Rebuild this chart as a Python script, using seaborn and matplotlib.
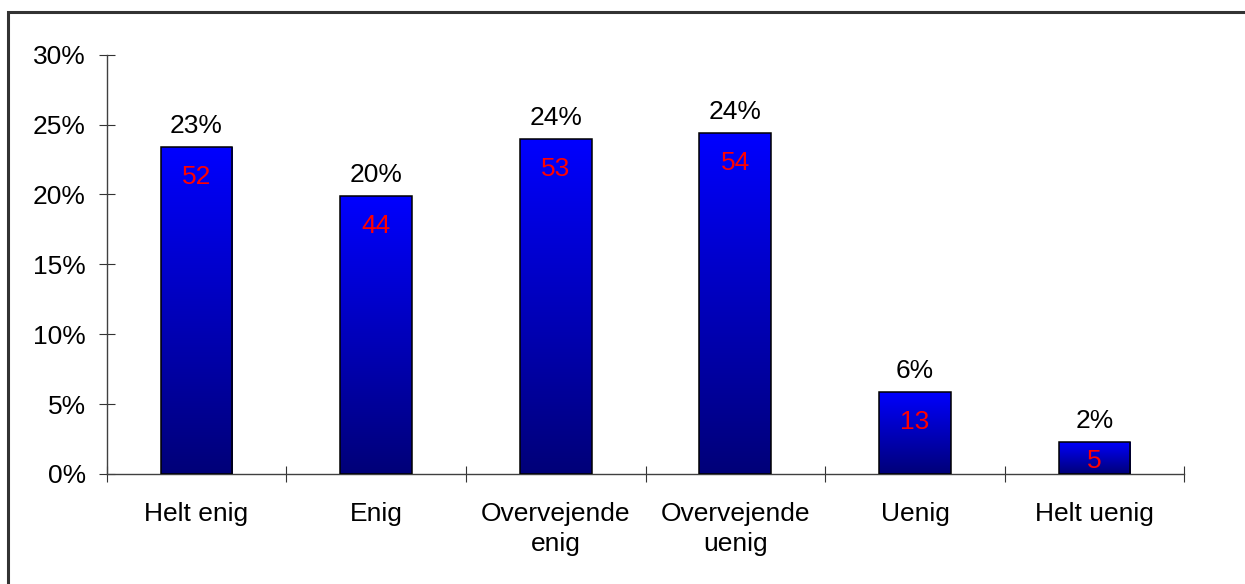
import numpy as np
import pandas as pd
import matplotlib
matplotlib.use("Agg")
import matplotlib.pyplot as plt
import seaborn as sns
from matplotlib.colors import LinearSegmentedColormap
from matplotlib.patches import Rectangle
from matplotlib.ticker import FixedLocator, PercentFormatter

categories = ["Helt enig", "Enig", "Overvejende\nenig", "Overvejende\nuenig", "Uenig", "Helt uenig"]
percent = [23.4, 19.9, 24.0, 24.4, 5.9, 2.3]
counts = [52, 44, 53, 54, 13, 5]

df = pd.DataFrame({"svar": categories, "pct": percent})

sns.set_style("white")
plt.rcParams["font.family"] = ["Liberation Sans", "DejaVu Sans"]
plt.rcParams["text.color"] = "black"
plt.rcParams["xtick.labelcolor"] = "black"
plt.rcParams["ytick.labelcolor"] = "black"
FS = 19

fig = plt.figure(figsize=(12.45, 5.84), dpi=100)
ax = fig.add_axes([0.0857, 0.1884, 0.8656, 0.7179])

sns.barplot(data=df, x="svar", y="pct", color="blue", width=0.4, ax=ax,
            edgecolor="black", linewidth=1.1)

# gradient fill: bright blue on top, navy at the bottom
cmap = LinearSegmentedColormap.from_list("bar", ["#000078", "#0000FF"])
grad = np.linspace(0, 1, 256).reshape(-1, 1)
for bar in ax.patches:
    x0, w, h = bar.get_x(), bar.get_width(), bar.get_height()
    bar.set_facecolor("none")
    bar.set_zorder(3)
    img = ax.imshow(grad, extent=[x0, x0 + w, 0, h], origin="lower",
                    aspect="auto", cmap=cmap, zorder=2)
    img.set_clip_path(bar)

ax.set_xlim(-0.5, 5.5)
ax.set_ylim(0, 30)

# labels: percentage above, count in red inside
for i, (p, n) in enumerate(zip(percent, counts)):
    ax.annotate(f"{p:.0f}%", (i, p), xytext=(0, 10), textcoords="offset points",
                ha="center", va="baseline", fontsize=FS, color="black")
    off = min(2.15, 0.6 * p)
    ax.text(i, p - off, str(n), ha="center", va="center", fontsize=FS,
            color="#FF0000", zorder=4)

ax.set_xlabel("")
ax.set_ylabel("")
ax.yaxis.set_major_formatter(PercentFormatter(decimals=0))
ax.set_yticks(np.arange(0, 31, 5))
ax.tick_params(axis="y", which="major", direction="inout", length=11.5, width=0.8,
               color="#333333", pad=9.4, labelsize=FS, left=True)
ax.tick_params(axis="x", which="major", length=0, pad=20.5, labelsize=FS)
for lab in ax.get_xticklabels():
    lab.set_linespacing(1.3)
ax.xaxis.set_minor_locator(FixedLocator(np.arange(-0.5, 6, 1)))
ax.tick_params(axis="x", which="minor", direction="inout", length=11.5, width=0.8,
               color="#333333", bottom=True)

for s in ["top", "right"]:
    ax.spines[s].set_visible(False)
for s in ["left", "bottom"]:
    ax.spines[s].set_color("#404040")
    ax.spines[s].set_linewidth(1.0)
ax.grid(False)

# outer frame (only top and left edges fall inside the image)
fig.patches.append(Rectangle((8 / 1245, -0.1), 1.2, (584 - 12) / 584 + 0.1,
                             transform=fig.transFigure, fill=False,
                             edgecolor="#333333", linewidth=2.2))

fig.savefig("out.png", dpi=100)
